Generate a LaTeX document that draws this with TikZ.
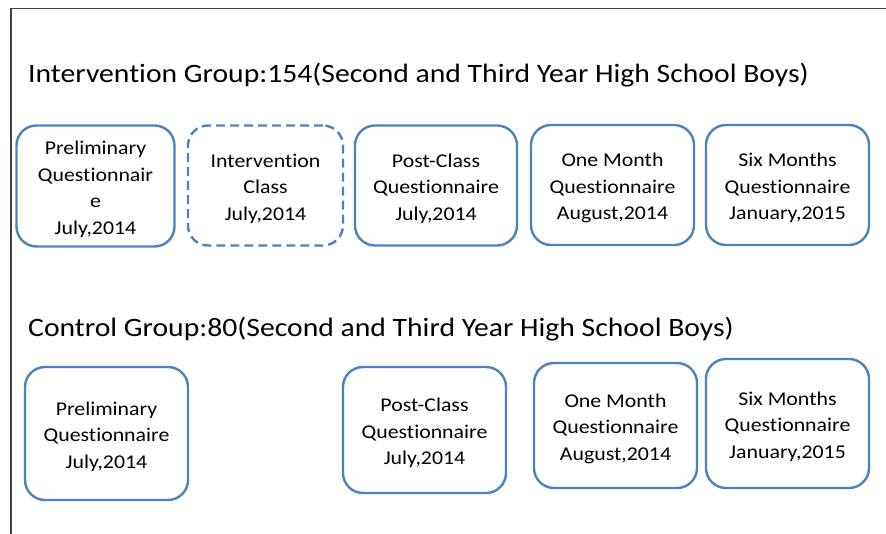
\documentclass[tikz,border=0pt]{standalone}
\usepackage{fontspec}
\setmainfont[FakeStretch=1.12,Ligatures=NoCommon]{Carlito}
\definecolor{boxblue}{HTML}{4F81BD}
\definecolor{framegray}{HTML}{404040}
\newcommand{\topgap}{\rule{0pt}{20pt}}
\begin{document}
\begin{tikzpicture}[x=1pt,y=-1pt,
  stagebox/.style={draw=boxblue, line width=2.4pt, rounded corners=20pt, inner sep=0pt,
    align=center, font=\fontsize{19.5}{26.5}\selectfont, text=black},
  dashbox/.style={stagebox, dash pattern=on 9pt off 5pt},
  grouptitle/.style={anchor=base west, inner sep=0pt, font=\fontsize{26.5}{30}\selectfont}]
\useasboundingbox (0,0) rectangle (886,534);
\coordinate (fl) at (11,534);
\coordinate (fc) at (11,8.5);
\coordinate (fr) at (886,8.5);
\draw[framegray, line width=1.2pt] (fl) -- (fc) -- (fr);
\node[grouptitle] (t1) at (28,83) {Intervention Group:154(Second and Third Year High School Boys)};
\node[grouptitle] (t2) at (28,337) {Control Group:80(Second and Third Year High School Boys)};
% top row
\node[stagebox, minimum width=158pt, minimum height=121pt] (a1) at (95.5,186) {\topgap Preliminary\\Questionnair\\e\\July,2014};
\node[dashbox, minimum width=155pt, minimum height=120pt] (a2) at (265.5,185.5) {\topgap Intervention\\Class\\July,2014};
\node[stagebox, minimum width=162pt, minimum height=120pt] (a3) at (436,185.5) {\topgap Post-Class\\Questionnaire\\July,2014};
\node[stagebox, minimum width=163pt, minimum height=120pt] (a4) at (612.5,185) {\topgap One Month\\Questionnaire\\August,2014};
\node[stagebox, minimum width=163pt, minimum height=120pt] (a5) at (787.5,185) {\topgap Six Months\\Questionnaire\\January,2015};
% bottom row
\node[stagebox, minimum width=163pt, minimum height=133pt] (b1) at (106.5,433.5) {\topgap Preliminary\\Questionnaire\\July,2014};
\node[stagebox, minimum width=163pt, minimum height=126pt] (b2) at (424.5,430) {\topgap Post-Class\\Questionnaire\\July,2014};
\node[stagebox, minimum width=163pt, minimum height=125pt] (b3) at (615.5,425.5) {\topgap One Month\\Questionnaire\\August,2014};
\node[stagebox, minimum width=163pt, minimum height=129pt] (b4) at (787.5,423.5) {\topgap Six Months\\Questionnaire\\January,2015};
\end{tikzpicture}
\end{document}
